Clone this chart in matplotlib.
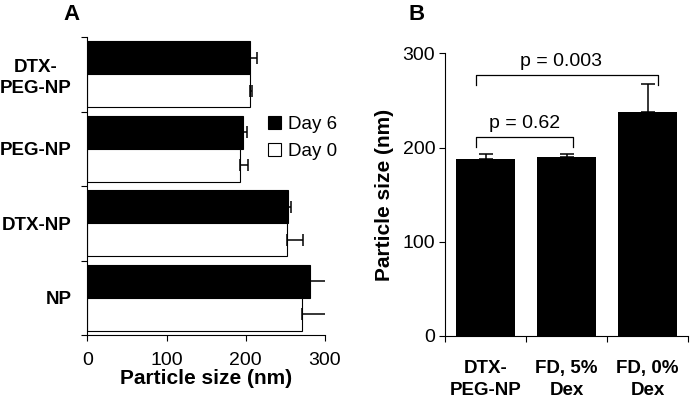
import numpy as np
import matplotlib
matplotlib.use('Agg')
import matplotlib.pyplot as plt
from matplotlib.patches import Patch

plt.rcParams['font.family'] = ['Liberation Sans', 'DejaVu Sans']

# panel A
a_groups = ['DTX-\nPEG-NP', 'PEG-NP', 'DTX-NP', 'NP']
day6 = [206, 197, 253, 281]
day6_err = [8, 4, 4, 22]
day0 = [205, 193, 252, 271]
day0_err = [3, 10, 20, 32]

# panel B
b_groups = ['DTX-\nPEG-NP', 'FD, 5%\nDex', 'FD, 0%\nDex']
b_vals = [187.5, 189.5, 237.5]
b_err = [5.5, 3.5, 30]

fig = plt.figure(figsize=(6.91, 4.01), dpi=100)

# ---- A ----
ax = fig.add_axes([0.1263, 0.1646, 0.344, 0.743])
y = np.arange(len(a_groups))
h = 0.445
ekw = dict(capsize=4, elinewidth=1.1, capthick=1.1, ecolor='black')
ax.barh(y - h/2, day6, height=h, color='black', edgecolor='black', lw=0.8,
        xerr=[np.zeros(4), day6_err], error_kw=ekw)
ax.barh(y + h/2, day0, height=h, color='white', edgecolor='black', lw=0.8,
        xerr=[np.zeros(4), day0_err], error_kw=ekw)
ax.set_ylim(3.5, -0.5)
ax.set_xlim(0, 300)
ax.set_xticks([0, 100, 200, 300])
ax.set_yticks(y)
ax.set_yticks(np.arange(-0.5, 4, 1), minor=True)
ax.set_yticklabels(a_groups, fontsize=13.5, fontweight='bold', multialignment='center',
                   linespacing=1.3)
ax.tick_params(axis='y', which='major', length=0, pad=11)
ax.tick_params(axis='y', which='minor', length=4, width=0.8)
ax.tick_params(axis='x', labelsize=14, length=4, width=0.8, pad=8)
ax.set_xlabel('Particle size (nm)', fontsize=15, fontweight='bold', labelpad=0)
for s in ['top', 'right']:
    ax.spines[s].set_visible(False)
for s in ['left', 'bottom']:
    ax.spines[s].set_linewidth(0.8)

handles = [Patch(facecolor='black', edgecolor='black', lw=0.8, label='Day 6'),
           Patch(facecolor='white', edgecolor='black', lw=0.8, label='Day 0')]
fig.legend(handles=handles, loc='upper left', bbox_to_anchor=(251/691, 1 - 99/401),
           frameon=False, fontsize=13.5, handlelength=0.7, handleheight=0.7,
           handletextpad=0.35, labelspacing=0.55)
fig.text(72/691, 1 - 14/401, 'A', fontsize=16, fontweight='bold', ha='center', va='center')

# ---- B ----
bx = fig.add_axes([0.644, 0.1621, 0.3517, 0.705])
xb = np.arange(len(b_groups))
bx.bar(xb, b_vals, width=0.73, color='black',
       yerr=[np.zeros(3), b_err], error_kw=dict(capsize=5, elinewidth=1.1, capthick=1.1, ecolor='black'))
bx.set_xlim(-0.5, 2.5)
bx.set_ylim(0, 300)
bx.set_yticks([0, 100, 200, 300])
bx.set_xticks(xb)
bx.set_xticks(np.arange(-0.5, 3, 1), minor=True)
bx.set_xticklabels(b_groups, fontsize=13.5, fontweight='bold', multialignment='center',
                   linespacing=1.4)
bx.tick_params(axis='x', which='major', length=0, pad=17)
bx.tick_params(axis='x', which='minor', length=4, width=0.8)
bx.tick_params(axis='y', labelsize=14, length=4, width=0.8, pad=3)
bx.set_ylabel('Particle size (nm)', fontsize=15, fontweight='bold', labelpad=6)
for s in ['top', 'right']:
    bx.spines[s].set_visible(False)
for s in ['left', 'bottom']:
    bx.spines[s].set_linewidth(0.8)

brackets = [(-0.121, 1.077, 201, 211.5, 'p = 0.62', 0.488, 225),
            (-0.121, 2.133, 266.5, 277, 'p = 0.003', 0.93, 291)]
for x0, x1, ylo, yhi, txt, tx, ty in brackets:
    bx.plot([x0, x0, x1, x1], [ylo, yhi, yhi, ylo], color='black', lw=0.9, clip_on=False)
    bx.text(tx, ty, txt, fontsize=14, ha='center', va='center')
fig.text(417/691, 1 - 14/401, 'B', fontsize=16, fontweight='bold', ha='center', va='center')

fig.savefig('out.png', dpi=100)
